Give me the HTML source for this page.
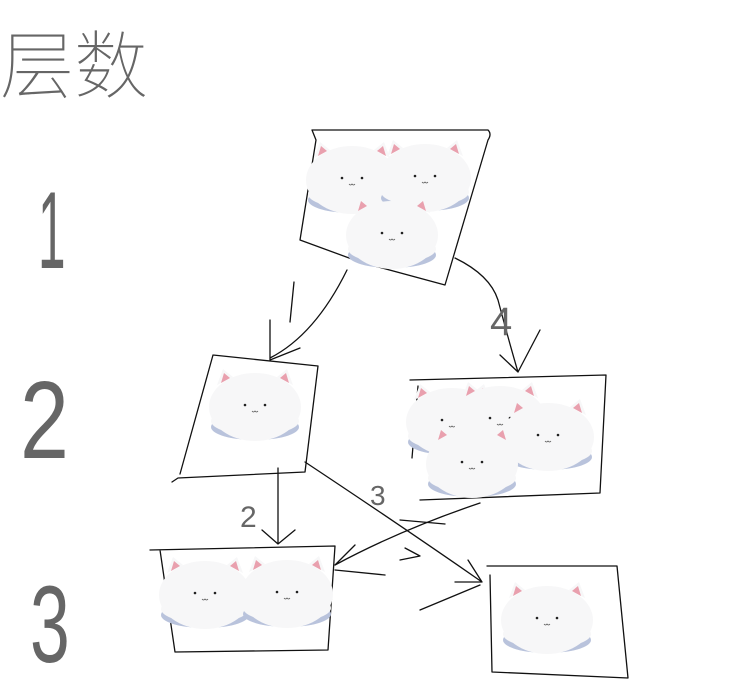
<!DOCTYPE html>
<html><head><meta charset="utf-8"><style>
html,body{margin:0;padding:0;background:#fff;width:750px;height:700px;overflow:hidden}
text{font-family:"Liberation Sans","Noto Sans CJK SC",sans-serif;fill:#666;font-weight:100}
</style></head><body>
<svg width="750" height="700" viewBox="0 0 750 700">
<defs>
<g id="cat">
<ellipse cx="0" cy="22" rx="44" ry="13" fill="#b9c3dc"/>
<ellipse cx="0" cy="2" rx="46" ry="34" fill="#f7f7f8"/>
<ellipse cx="0" cy="16" rx="44" ry="14" fill="#f7f7f8"/>
<polygon points="-38,-20 -32,-36 -22,-28" fill="#f7f7f8"/>
<polygon points="38,-20 32,-36 22,-28" fill="#f7f7f8"/>
<polygon points="-34,-22 -31,-32 -25,-27" fill="#e9a0ae"/>
<polygon points="34,-22 31,-32 25,-27" fill="#e9a0ae"/>
<circle cx="-10" cy="0" r="1.3" fill="#222"/>
<circle cx="10" cy="0" r="1.3" fill="#222"/>
<path d="M-3,6 q1.5,2 3,0 q1.5,2 3,0" stroke="#555" stroke-width="0.7" fill="none"/>
</g>
</defs>
<g stroke="#111" stroke-width="1.3" fill="none" stroke-linecap="round" stroke-linejoin="round">
<path d="M316,140 L312,130 L488,130 Q492,134 488,140 L445,285 L360,262 L300,240 Z"/>
<path d="M213,355 L318,366 L305,472 L178,478 L172,482 M213,355 L180,474"/>
<path d="M410,380 L606,375 L600,493 M418,386 L412,458 M600,493 L420,500"/>
<path d="M150,550 L335,546 L328,650 L175,652 L160,550"/>
<path d="M487,566 L617,566 L628,678 L492,672 L490,575"/>
<path d="M347,270 Q315,335 270,358 M270,320 L270,360 M270,360 L300,348"/>
<path d="M455,258 Q490,275 498,300 Q510,345 518,372 M518,372 L540,330 M518,372 L500,355"/>
<path d="M278,468 L278,544 M262,530 L278,544 L295,530"/>
<path d="M305,462 Q400,525 482,582 M482,582 L468,560 M482,582 L455,582 M420,610 L480,585"/>
<path d="M480,503 Q400,530 335,565 M335,565 L355,545 M335,570 L385,575 M400,520 L445,524 M405,548 L420,556 L400,560"/>
<path d="M294,282 L290,322"/>
</g>
<use href="#cat" x="352" y="178"/><use href="#cat" x="425" y="176"/><use href="#cat" x="392" y="233"/>
<use href="#cat" x="255" y="405"/>
<use href="#cat" x="452" y="420"/><use href="#cat" x="500" y="418"/><use href="#cat" x="548" y="435"/><use href="#cat" x="472" y="462"/>
<use href="#cat" x="205" y="593"/><use href="#cat" x="287" y="592"/>
<use href="#cat" x="547" y="618"/>
<text x="0" y="92" font-size="74" transform="translate(0,0) scale(1,1)">层数</text>
<text x="0" y="0" font-size="110" transform="translate(38,268) scale(0.45,1)">1</text>
<text x="0" y="0" font-size="110" transform="translate(20,458) scale(0.8,1)">2</text>
<text x="0" y="0" font-size="110" transform="translate(30,662) scale(0.65,1)">3</text>
<text x="490" y="335" font-size="40">4</text>
<text x="240" y="527" font-size="30">2</text>
<text x="370" y="505" font-size="28">3</text>
</svg>
</body></html>
